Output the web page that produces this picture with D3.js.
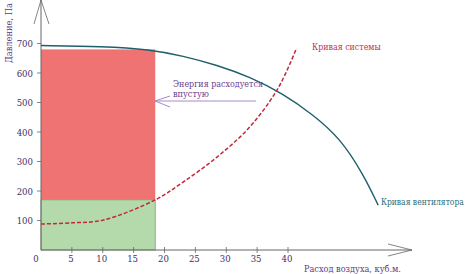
<!DOCTYPE html>
<html>
<head>
<meta charset="utf-8">
<script src="https://cdn.jsdelivr.net/npm/d3@7"></script>
<style>
  body { margin: 0; background: #fff; }
</style>
</head>
<body>
<div id="chart"></div>
<script>
// fan / system curves (flow, pressure)
const fanFlow = [0, 10, 17.6, 23, 28.5, 33.8, 39.2, 44.1, 48.4, 52.2, 54.6];
const fanPressure = [693, 690, 680, 658, 627, 587, 530, 458, 380, 257, 152];
const sysFlow = [0, 5, 10, 18.5, 23, 28.5, 33.8, 38.4, 41.4];
const sysPressure = [88, 92, 101, 170, 230, 315, 417, 549, 685];
const xTicks = [5, 10, 15, 20, 25, 30, 35, 40];
const yTicks = [100, 200, 300, 400, 500, 600, 700];
const opFlow = 18.5, opFan = 680, opSys = 170;

const width = 469, height = 274;
const purple = "#5e3a80";

const svg = d3.select("#chart").append("svg")
    .attr("width", width)
    .attr("height", height)
    .attr("font-family", "'DejaVu Serif Condensed', 'DejaVu Serif', serif");

const x = d3.scaleLinear().domain([0, 40]).range([41, 288]);
const y = d3.scaleLinear().domain([0, 700]).range([250, 43.5]);

// text helper: squeeze a label horizontally to the width seen on the picture
function label(px, py, str, w, col, rot) {
    const t = svg.append("text")
        .style("font-size", "10px").style("fill", col)
        .text(str);
    const sx = Math.min(1, w / t.node().getComputedTextLength());
    t.attr("transform", `translate(${px},${py})${rot ? " rotate(" + rot + ")" : ""} scale(${sx},1)`);
    return t;
}

// wasted energy / useful energy areas
svg.append("rect")
    .attr("x", x(0)).attr("y", y(opFan))
    .attr("width", x(opFlow) - x(0)).attr("height", y(opSys) - y(opFan))
    .attr("fill", "#f07373");
svg.append("rect")
    .attr("x", x(0)).attr("y", y(opSys))
    .attr("width", x(opFlow) - x(0)).attr("height", y(0) - y(opSys))
    .attr("fill", "#b4daab")
    .attr("stroke", "#7f9a78").attr("stroke-width", 0.8);

// axes
const axisCol = "#666";
svg.append("line").attr("x1", x(0)).attr("y1", y(0)).attr("x2", 412).attr("y2", y(0))
    .attr("stroke", axisCol);
svg.append("line").attr("x1", x(0)).attr("y1", y(0)).attr("x2", x(0)).attr("y2", 0)
    .attr("stroke", axisCol);
svg.append("path").attr("d", `M388,244L412,${y(0)}L388,256`)
    .attr("fill", "none").attr("stroke", axisCol).attr("stroke-width", 0.8);
svg.append("path").attr("d", `M34,24L${x(0)},0L49,24`)
    .attr("fill", "none").attr("stroke", axisCol).attr("stroke-width", 0.8);

const tickCol = "#3e2f66";
svg.append("g").selectAll("line").data(xTicks).enter().append("line")
    .attr("x1", d => x(d)).attr("x2", d => x(d))
    .attr("y1", y(0) - 3).attr("y2", y(0) + 3)
    .attr("stroke", axisCol).attr("stroke-width", 0.8);
svg.append("g").selectAll("text").data(xTicks).enter().append("text")
    .attr("x", d => x(d) - 1).attr("y", 262)
    .attr("text-anchor", "middle")
    .style("font-size", "9.5px").style("fill", tickCol)
    .text(d => d);
svg.append("text").attr("x", 36).attr("y", 262).attr("text-anchor", "middle")
    .style("font-size", "9.5px").style("fill", tickCol).text("0");

svg.append("g").selectAll("line").data(yTicks).enter().append("line")
    .attr("x1", x(0) - 4).attr("x2", x(0))
    .attr("y1", d => y(d)).attr("y2", d => y(d))
    .attr("stroke", axisCol).attr("stroke-width", 0.8);
svg.append("g").selectAll("text").data(yTicks).enter().append("text")
    .attr("x", 33).attr("y", d => y(d) + 3.5)
    .attr("text-anchor", "end")
    .style("font-size", "9.5px").style("fill", tickCol)
    .text(d => d);

// axis titles
label(12, 63, "Давление, Па", 60, purple, -90);
label(304, 272, "Расход воздуха, куб.м.", 97, purple);

// curves
const line = d3.line()
    .x(d => x(d[0])).y(d => y(d[1]));

svg.append("path")
    .attr("d", line.curve(d3.curveBasis)(fanFlow.map((f, i) => [f, fanPressure[i]])))
    .attr("fill", "none").attr("stroke", "#1d5f6a").attr("stroke-width", 1.4);

svg.append("path")
    .attr("d", line.curve(d3.curveCatmullRom)(sysFlow.map((f, i) => [f, sysPressure[i]])))
    .attr("fill", "none").attr("stroke", "#c2283c").attr("stroke-width", 1.5)
    .attr("stroke-dasharray", "4,2");

// labels
label(312, 50, "Кривая системы", 69, "#c0334a");
label(381, 205, "Кривая вентилятора", 83, "#2a6b78");

label(173, 87, "Энергия расходуется", 90, "#6a3c8c");
label(173, 97, "впустую", 36, "#6a3c8c");

svg.append("line").attr("x1", 155).attr("y1", 101).attr("x2", 256).attr("y2", 101)
    .attr("stroke", "#a48cc4").attr("stroke-width", 1);
svg.append("path").attr("d", "M170,96L155,101L170,107")
    .attr("fill", "none").attr("stroke", "#a48cc4").attr("stroke-width", 1);
</script>
</body>
</html>
